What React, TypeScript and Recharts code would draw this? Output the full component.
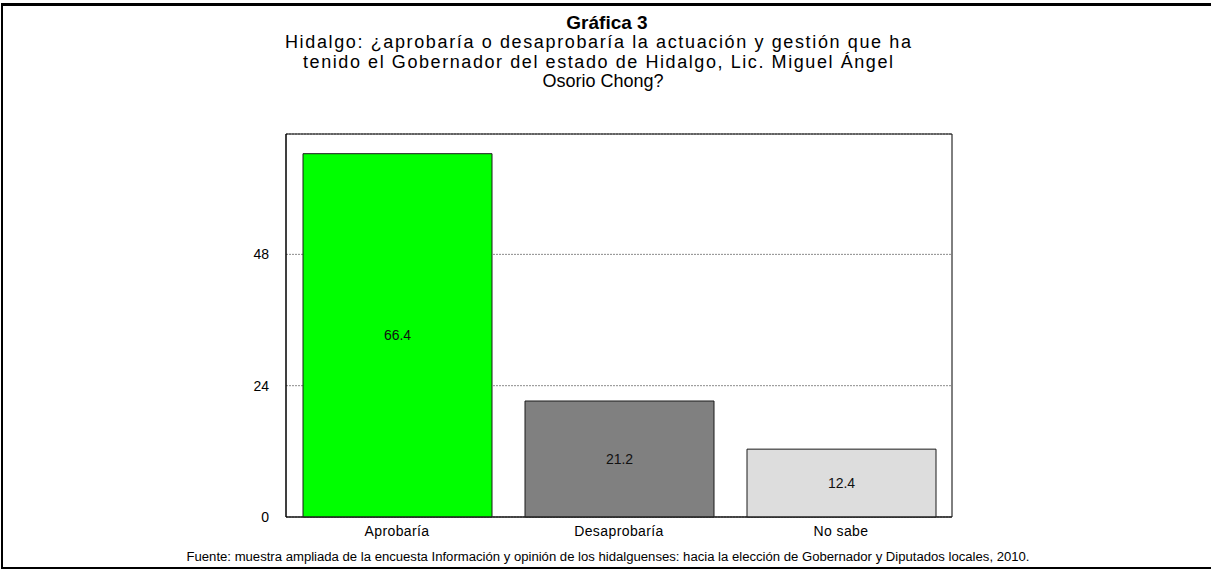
import React from 'react';
import { BarChart, Bar, XAxis, YAxis, CartesianGrid, LabelList, Cell, ReferenceArea } from 'recharts';

const categories = ['Aprobaría', 'Desaprobaría', 'No sabe'];
const values = [66.4, 21.2, 12.4];
const barColors = ['#00ff00', '#808080', '#dddddd'];
const yTicks = [0, 24, 48];
const yMax = 70;

const chartTitle = 'Gráfica 3';
const subtitleLines = [
  'Hidalgo: ¿aprobaría o desaprobaría la actuación y gestión que ha',
  'tenido el Gobernador del estado de Hidalgo, Lic. Miguel Ángel',
  'Osorio Chong?',
];
const footerText =
  'Fuente: muestra ampliada de la encuesta Información y opinión de los hidalguenses: hacia la elección de Gobernador y Diputados locales, 2010.';

const data = categories.map((name, i) => ({ name, value: values[i] }));

const W = 1211;
const H = 569;
const FONT = 'Arial, "Liberation Sans", sans-serif';

export default function App() {
  return (
    <div style={{ position: 'absolute', left: 0, top: 0, width: W, height: H, background: '#fff', overflow: 'hidden', fontFamily: FONT }}>
      {/* outer frame, open on the right like the source */}
      <div
        style={{
          position: 'absolute',
          left: 1,
          top: 3,
          width: W + 10,
          height: 566,
          boxSizing: 'border-box',
          borderTop: '3px solid #000',
          borderLeft: '2px solid #000',
          borderBottom: '2px solid #000',
        }}
      />
      <div style={{ position: 'absolute', left: 0, top: 0 }}>
        <BarChart width={W} height={H} data={data} margin={{ top: 134, right: 259, bottom: 22, left: 246 }}>
          <CartesianGrid vertical={false} stroke="#8c8c8c" strokeDasharray="2 1" />
          <XAxis
            dataKey="name"
            height={30}
            tickLine={false}
            tickSize={0}
            tickMargin={9}
            axisLine={{ stroke: '#222' }}
            tick={{ fill: '#000', fontSize: 14, fontFamily: FONT, letterSpacing: 0.4 }}
          />
          <YAxis
            domain={[0, yMax]}
            ticks={yTicks}
            width={40}
            tickLine={false}
            tickSize={0}
            tickMargin={17}
            axisLine={{ stroke: '#000' }}
            tick={{ fill: '#000', fontSize: 14, fontFamily: FONT }}
          />
          <Bar dataKey="value" barSize={189} stroke="#1a1a1a" strokeWidth={1} isAnimationActive={false}>
            {data.map((d, i) => (
              <Cell key={d.name} fill={barColors[i]} />
            ))}
            <LabelList
              dataKey="value"
              position="center"
              fill="#111"
              fontSize={14}
              fontFamily={FONT}
              formatter={(v: number) => v.toFixed(1)}
            />
          </Bar>
          {/* plot frame */}
          <ReferenceArea y1={0} y2={yMax} fill="none" stroke="#000" strokeWidth={1} fillOpacity={0} />
        </BarChart>
      </div>
      <svg width={W} height={H} style={{ position: 'absolute', left: 0, top: 0, pointerEvents: 'none' }} fontFamily={FONT}>
        <text x={607} y={29} textAnchor="middle" fontSize={19} fontWeight="bold" fill="#000">
          {chartTitle}
        </text>
        <text x={598} y={48} textAnchor="middle" fontSize={18} fill="#000" textLength={626} lengthAdjust="spacing">
          {subtitleLines[0]}
        </text>
        <text x={598} y={68} textAnchor="middle" fontSize={18} fill="#000" textLength={590} lengthAdjust="spacing">
          {subtitleLines[1]}
        </text>
        <text x={603} y={87} textAnchor="middle" fontSize={18} fill="#000">
          {subtitleLines[2]}
        </text>
        <text
          x={608}
          y={561}
          textAnchor="middle"
          fontSize={12.5}
          fill="#000"
          fontFamily={'"Liberation Sans Narrow", "Arial Narrow", ' + FONT}
          textLength={843}
          lengthAdjust="spacingAndGlyphs"
        >
          {footerText}
        </text>
      </svg>
    </div>
  );
}
